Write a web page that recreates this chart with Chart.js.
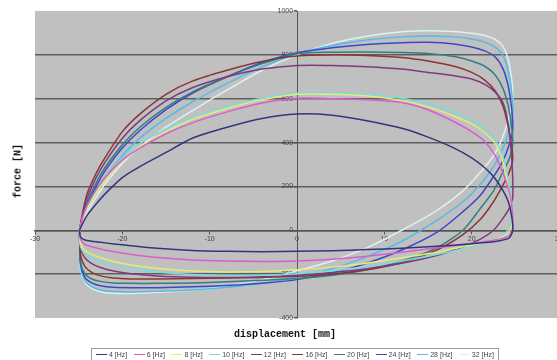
<!DOCTYPE html>
<html>
<head>
<meta charset="utf-8">
<script src="https://cdn.jsdelivr.net/npm/chart.js@4.4.1/dist/chart.umd.min.js"></script>
<style>
  body { margin: 0; background: #fff; }
  #wrap { position: relative; width: 557px; height: 360px; overflow: hidden; }
  #chart { position: absolute; left: 0; top: 0; }
  .axis-title { position: absolute; font: bold 10px "Liberation Mono", "DejaVu Sans Mono", monospace; color: #111; white-space: nowrap; }
  #ytitle { left: 18px; top: 171px; transform: translate(-50%, -50%) rotate(-90deg); }
  #xtitle { left: 285px; top: 334px; transform: translate(-50%, -50%); }
  #legend { position: absolute; left: 91px; top: 348px; width: 408px; height: 13px; border: 1px solid #999;
            display: flex; justify-content: space-between; align-items: center; padding: 0 4px; box-sizing: border-box;
            font: 7px Arial, "Liberation Sans", sans-serif; color: #444; }
  .item { display: flex; align-items: center; white-space: nowrap; }
  .swatch { display: inline-block; width: 11px; height: 0; border-top: 1.5px solid; margin-right: 2px; }
</style>
</head>
<body>
<div id="wrap">
  <canvas id="chart" width="570" height="360"></canvas>
  <div class="axis-title" id="ytitle">force [N]</div>
  <div class="axis-title" id="xtitle">displacement [mm]</div>
  <div id="legend"></div>
</div>
<script>
// displacement [mm] along each loop: upper branch left->right, then lower branch right->left
const displacement = [-24.9, -24.5, -24, -23, -22, -20, -18, -15, -12, -8, -4, 0,
  4, 8, 12, 15, 18, 20, 21.5, 22.7, 23.6, 24.2, 24.6, 24.7,
  24.3, 23.5, 22.5, 21, 19, 16, 12, 8, 4, 0,
  -4, -8, -12, -16, -19, -21, -22.5, -23.5, -24.3, -24.8, -24.9];

// force [N], one loop per frequency
const force4 = [0, 35, 70, 120, 165, 240, 290, 355, 420, 470, 510, 530,
  525, 500, 465, 425, 375, 330, 285, 235, 180, 130, 60, 0,
  -35, -45, -52, -58, -65, -73, -82, -88, -93, -96,
  -98, -96, -92, -82, -70, -62, -55, -50, -44, -30, 0];
const force6 = [0, 65, 115, 185, 240, 320, 375, 440, 490, 540, 580, 602,
  600, 595, 583, 550, 495, 450, 405, 340, 260, 190, 110, 10,
  -25, -37, -45, -55, -65, -80, -100, -118, -132, -140,
  -142, -140, -135, -124, -110, -97, -85, -75, -64, -40, 0];
const force8 = [0, 55, 100, 170, 225, 315, 380, 450, 505, 555, 595, 620,
  620, 612, 592, 562, 520, 485, 445, 395, 310, 190, 90, 40,
  -5, -30, -45, -60, -75, -100, -125, -150, -168, -180,
  -188, -190, -186, -174, -158, -142, -125, -110, -92, -60, 0];
const force10 = [0, 60, 110, 180, 240, 330, 395, 462, 512, 562, 602, 626,
  627, 620, 602, 577, 538, 502, 462, 412, 335, 225, 125, 60,
  10, -25, -45, -65, -85, -110, -140, -165, -185, -198,
  -205, -206, -202, -190, -175, -160, -143, -128, -108, -72, 0];
const force12 = [0, 80, 150, 240, 310, 420, 500, 590, 650, 700, 735, 752,
  752, 746, 735, 720, 705, 690, 665, 630, 580, 480, 320, 150,
  100, 50, 0, -40, -75, -115, -150, -175, -193, -205,
  -212, -215, -214, -208, -198, -186, -170, -152, -125, -80, 0];
const force16 = [0, 90, 170, 260, 330, 450, 530, 620, 680, 730, 770, 795,
  800, 797, 788, 772, 748, 720, 685, 635, 565, 470, 380, 320,
  265, 200, 130, 50, -20, -90, -148, -180, -200, -210,
  -215, -218, -220, -222, -222, -218, -208, -192, -165, -110, 0];
const force20 = [0, 70, 130, 215, 285, 390, 470, 560, 630, 700, 760, 805,
  812, 813, 811, 806, 792, 772, 748, 708, 645, 565, 465, 390,
  325, 260, 180, 100, 0, -80, -140, -180, -205, -220,
  -228, -235, -240, -242, -242, -240, -233, -222, -198, -140, 0];
const force24 = [0, 65, 120, 200, 270, 375, 455, 550, 625, 700, 765, 810,
  832, 847, 855, 857, 850, 836, 818, 790, 735, 655, 545, 455,
  390, 310, 245, 160, 85, -10, -90, -150, -195, -225,
  -242, -252, -258, -262, -262, -260, -253, -240, -215, -150, 0];
const force28 = [0, 55, 100, 175, 240, 340, 420, 510, 585, 670, 745, 805,
  843, 868, 882, 886, 882, 872, 858, 835, 795, 725, 625, 525,
  455, 365, 290, 210, 130, 45, -50, -120, -175, -212,
  -242, -260, -272, -278, -281, -279, -272, -257, -228, -160, 0];
const force32 = [0, 45, 85, 150, 210, 305, 380, 470, 545, 640, 730, 800,
  852, 885, 905, 910, 906, 898, 888, 870, 838, 775, 680, 600,
  520, 420, 340, 265, 180, 90, 0, -80, -140, -185,
  -225, -255, -273, -283, -288, -287, -280, -265, -235, -170, 0];

const seriesNames = ["4 [Hz]", "6 [Hz]", "8 [Hz]", "10 [Hz]", "12 [Hz]", "16 [Hz]", "20 [Hz]", "24 [Hz]", "28 [Hz]", "32 [Hz]"];
const seriesForces = [force4, force6, force8, force10, force12, force16, force20, force24, force28, force32];
const seriesColors = ["#34347e", "#dc5ccc", "#e6ea78", "#74dede", "#7e3a7e", "#8c3434", "#347e7e", "#3c48c8", "#52bce8", "#dcf2f2"];

const xTicksMin = -30, xTicksMax = 30, xStep = 10;
const yTicksMin = -400, yTicksMax = 1000, yStep = 200;

// grey plot area like the spreadsheet default
const plotBackground = {
  id: "plotBackground",
  beforeDraw(chart) {
    const { ctx, chartArea: a } = chart;
    ctx.save();
    ctx.fillStyle = "#c0c0c0";
    ctx.fillRect(a.left, a.top, a.right - a.left, a.bottom - a.top);
    ctx.restore();
  },
};

function makeDatasets() {
  var sets = [];
  for (var s = 0; s < seriesNames.length; s++) {
    var pts = [];
    for (var i = 0; i < displacement.length; i++) {
      pts.push({ x: displacement[i], y: seriesForces[s][i] });
    }
    sets.push({
      label: seriesNames[s],
      data: pts,
      showLine: true,
      borderColor: seriesColors[s],
      backgroundColor: seriesColors[s],
      borderWidth: 1.5,
      pointRadius: 0,
      tension: 0.25,
    });
  }
  return sets;
}

function makeLegend() {
  var box = document.getElementById("legend");
  for (var s = 0; s < seriesNames.length; s++) {
    var item = document.createElement("span");
    item.className = "item";
    var sw = document.createElement("span");
    sw.className = "swatch";
    sw.style.borderTopColor = seriesColors[s];
    item.appendChild(sw);
    item.appendChild(document.createTextNode(seriesNames[s]));
    box.appendChild(item);
  }
}

const tickFont = { family: "Arial, 'Liberation Sans', sans-serif", size: 7 };

new Chart(document.getElementById("chart"), {
  type: "scatter",
  data: { datasets: makeDatasets() },
  plugins: [plotBackground],
  options: {
    responsive: false,
    animation: false,
    layout: { padding: { left: 35, top: 11, right: 11, bottom: 42 } },
    plugins: { legend: { display: false }, tooltip: { enabled: false } },
    scales: {
      x: {
        type: "linear",
        min: xTicksMin,
        max: xTicksMax,
        position: { y: 0 },
        ticks: { stepSize: xStep, font: tickFont, color: "#444", maxRotation: 0, padding: 2 },
        grid: { display: true, drawOnChartArea: false, drawTicks: true, tickLength: 3, color: "#555" },
        border: { display: true, color: "#555", width: 1.5 },
      },
      y: {
        type: "linear",
        min: yTicksMin,
        max: yTicksMax,
        position: { x: 0 },
        ticks: { stepSize: yStep, font: tickFont, color: "#444", callback: (v) => v + "  " },
        grid: {
          color: (c) => (c.tick && (c.tick.value === yTicksMin || c.tick.value === yTicksMax) ? "rgba(0,0,0,0)" : "#5e5e5e"),
          lineWidth: 1.5,
          tickColor: "#555",
          tickLength: 3,
        },
        border: { display: true, color: "#555", width: 1 },
      },
    },
  },
});

makeLegend();
</script>
</body>
</html>
